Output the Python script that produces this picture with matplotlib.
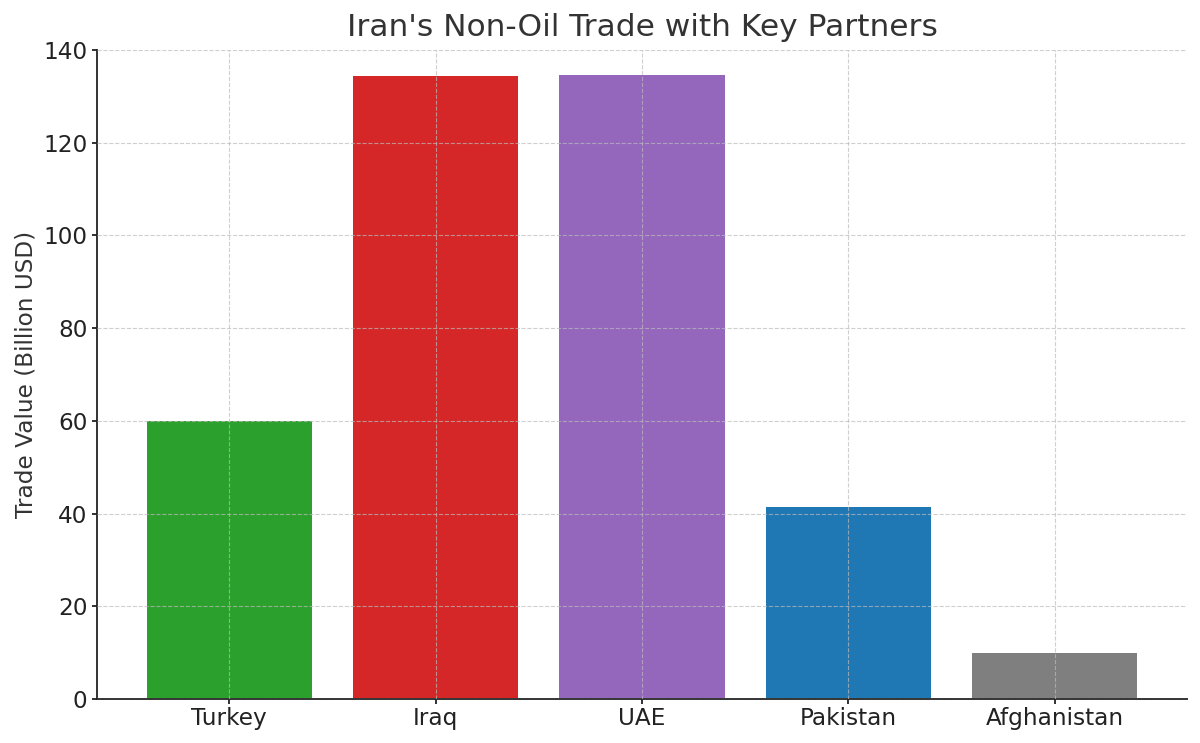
import matplotlib
matplotlib.use("Agg")
import matplotlib.pyplot as plt

countries = ["Turkey", "Iraq", "UAE", "Pakistan", "Afghanistan"]
values = [60, 134.3, 134.6, 41.4, 10]
colors = ["#2ca02c", "#d62728", "#9467bd", "#1f77b4", "#7f7f7f"]

fig, ax = plt.subplots(figsize=(12, 7.43), dpi=100)
ax.bar(countries, values, color=colors, width=0.8)
ax.set_ylim(0, 140)
ax.set_title("Iran's Non-Oil Trade with Key Partners", fontsize=22.5, color="#333333", pad=10)
ax.set_ylabel("Trade Value (Billion USD)", fontsize=16.7, color="#333333", labelpad=4)
ax.tick_params(axis="both", labelsize=16.7, colors="#222222", width=1.3)
ax.tick_params(axis="x", pad=2)
ax.spines["top"].set_visible(False)
ax.spines["right"].set_visible(False)
for s in ("left", "bottom"):
    ax.spines[s].set_color("#333333")
    ax.spines[s].set_linewidth(1.4)
ax.grid(True, linestyle="--", color="#bbbbbb", alpha=0.7)
ax.set_axisbelow(False)
fig.subplots_adjust(left=0.081, right=0.989, top=0.933, bottom=0.059)
fig.savefig("out.png", dpi=100)
